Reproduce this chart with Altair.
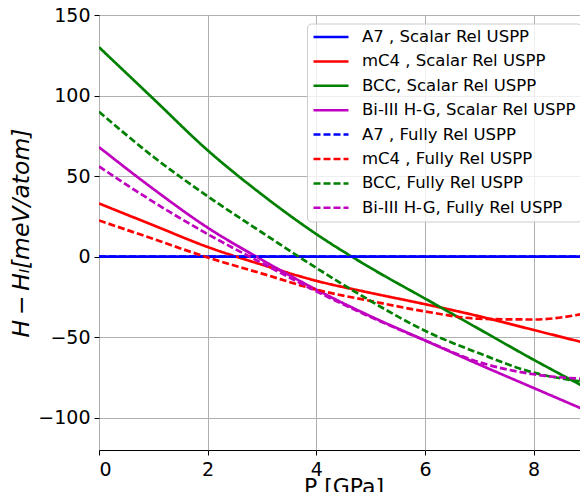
import altair as alt
import pandas as pd

pressure = [0, 1, 2, 3, 4, 5, 6, 7, 8, 9]

a7_scalar = [0, 0, 0, 0, 0, 0, 0, 0, 0, 0]
mc4_scalar = [33, 19.5, 6, -5, -15, -22.5, -29.5, -37, -45.5, -54]
bcc_scalar = [130, 98, 66, 38.5, 14, -7, -26, -45, -64, -82]
bi3_scalar = [68, 42, 18, -2, -20.5, -37, -52, -67, -81.5, -96]
a7_fully = [0, 0, 0, 0, 0, 0, 0, 0, 0, 0]
mc4_fully = [22.5, 11, -0.5, -10.5, -20.5, -27.5, -34, -38.5, -39, -35]
bcc_fully = [90, 62, 37.5, 15, -7, -27.5, -46, -60, -72, -78]
bi3_fully = [56, 34, 14, -4, -21.5, -37.5, -52, -65.5, -73, -76]

series_names = [
    "A7 , Scalar Rel USPP",
    "mC4 , Scalar Rel USPP",
    "BCC, Scalar Rel USPP",
    "Bi-III H-G, Scalar Rel USPP",
    "A7 , Fully Rel USPP",
    "mC4 , Fully Rel USPP",
    "BCC, Fully Rel USPP",
    "Bi-III H-G, Fully Rel USPP",
]
series_values = [a7_scalar, mc4_scalar, bcc_scalar, bi3_scalar,
                 a7_fully, mc4_fully, bcc_fully, bi3_fully]
series_colors = ["#0000ff", "#ff0000", "#008000", "#bf00bf",
                 "#0000ff", "#ff0000", "#008000", "#bf00bf"]
series_dashes = [[1, 0]] * 4 + [[7, 3]] * 4

x_ticks = [0, 2, 4, 6, 8]
y_ticks = [-100, -50, 0, 50, 100, 150]

rows = []
for order, (name, vals) in enumerate(zip(series_names, series_values)):
    for p, v in zip(pressure, vals):
        rows.append({"P": p, "H": v, "series": name, "order": order})
df = pd.DataFrame(rows)

legend = alt.Legend(
    title=None, orient="none", legendX=208, legendY=8.5,
    symbolType="stroke", symbolSize=1225, symbolStrokeWidth=2.5,
    clipHeight=17, rowPadding=7.4, padding=5,
    labelFontSize=16.5, labelOffset=12, labelLimit=400, labelColor="black",
    fillColor="rgba(255,255,255,0.8)", strokeColor="#cccccc", cornerRadius=4,
)

chart = alt.Chart(df).mark_line(strokeWidth=2.7, interpolate="monotone", clip=True).encode(
    x=alt.X("P:Q", scale=alt.Scale(domain=[0, 9], nice=False),
            axis=alt.Axis(values=x_ticks, title="P [GPa]", labelPadding=5, titlePadding=-3)),
    y=alt.Y("H:Q", scale=alt.Scale(domain=[-120, 150], nice=False),
            axis=alt.Axis(values=y_ticks, title="H\u2009\u2212\u2009Hₗ[meV/atom]", titleFontStyle="italic",
                          titleFontSize=23.5, labelPadding=4, titlePadding=4)),
    color=alt.Color("series:N", scale=alt.Scale(domain=series_names, range=series_colors), legend=legend),
    strokeDash=alt.StrokeDash("series:N", scale=alt.Scale(domain=series_names, range=series_dashes), legend=legend),
    order=alt.Order("order:Q"),
).properties(
    width=489, height=435,
    autosize=alt.AutoSizeParams(type="none"),
    padding={"left": 91, "top": 7, "right": -8, "bottom": 42},
).configure(
    font="DejaVu Sans",
).configure_view(
    stroke="black", strokeWidth=1,
).configure_axis(
    domain=False, grid=True, gridColor="#b0b0b0", gridWidth=1,
    tickColor="black", tickSize=5, tickWidth=1,
    labelFontSize=19, labelColor="black",
    titleFontSize=22, titleFontWeight="normal", titleColor="black",
)

chart.save("out.html", embed_options={"renderer": "svg", "actions": False})
